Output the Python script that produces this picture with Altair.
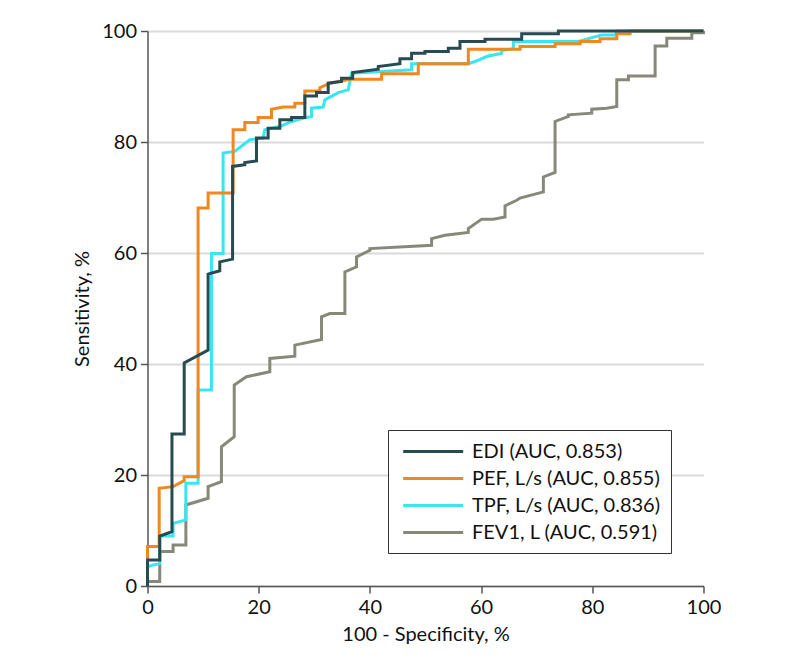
import altair as alt
import pandas as pd

# ---- data (x = 100 - Specificity %, y = Sensitivity %) ----
labels = ["EDI (AUC, 0.853)", "PEF, L/s (AUC, 0.855)", "TPF, L/s (AUC, 0.836)", "FEV1, L (AUC, 0.591)"]
colors = ["#274B50", "#F0871F", "#38E6F2", "#88887A"]

edi_x = [0, 0, 2.2, 2.2, 4.4, 4.4, 6.6, 6.6, 10.9, 10.9, 13.0, 13.0, 15.3, 15.3, 17.5, 17.5, 19.6, 19.6,
         21.7, 21.7, 23.8, 23.8, 25.9, 25.9, 28.3, 28.3, 30.4, 30.4, 32.5, 32.5, 34.9, 34.9, 36.9, 36.9,
         41.5, 41.5, 45.4, 45.4, 47.5, 47.5, 49.9, 49.9, 54.1, 54.1, 56.2, 56.2, 60.7, 60.7, 67.3, 67.3,
         73.9, 73.9, 100]
edi_y = [0, 4.7, 4.7, 9.0, 9.8, 27.4, 27.4, 40.2, 42.5, 56.2, 56.8, 58.4, 58.9, 75.6, 75.9, 76.3, 76.6, 80.7,
         80.7, 82.5, 82.5, 84.0, 84.0, 84.4, 84.4, 88.3, 88.3, 88.9, 88.9, 90.6, 90.9, 91.5, 91.5, 92.5,
         93.1, 93.6, 94.1, 95.0, 95.0, 96.0, 96.0, 96.3, 96.3, 96.9, 96.9, 98.1, 98.1, 98.5, 98.5, 99.5,
         99.5, 100, 100]

pef_x = [0, 0, 2.1, 2.1, 4.6, 6.6, 6.6, 9.1, 9.1, 10.9, 10.9, 15.4, 15.4, 17.5, 17.5, 19.9, 19.9, 22.3, 22.3,
         24.4, 26.5, 26.5, 28.3, 28.3, 31.0, 31.0, 32.8, 36.4, 42.1, 42.1, 48.7, 48.7, 57.7, 57.7, 67.0, 67.0,
         73.3, 73.3, 77.8, 77.8, 81.4, 81.4, 84.4, 84.4, 86.8, 86.8, 100]
pef_y = [5.0, 7.1, 7.1, 17.6, 17.9, 19.0, 19.7, 19.7, 68.1, 68.1, 70.8, 70.8, 82.2, 82.2, 83.5, 83.5, 84.4, 84.4, 85.9,
         86.3, 86.3, 87.0, 87.0, 89.2, 89.2, 89.8, 90.6, 91.3, 91.3, 92.3, 92.3, 94.1, 94.1, 96.7, 96.7, 97.2,
         97.2, 97.7, 97.7, 98.1, 98.1, 98.6, 98.6, 99.5, 99.5, 100, 100]

tpf_x = [0, 2.2, 2.2, 4.6, 4.6, 6.9, 6.9, 9.1, 9.1, 11.5, 11.5, 13.6, 13.6, 15.7, 18.4, 20.8, 21.1, 24.1, 25.9,
         28.1, 29.5, 29.5, 31.6, 31.9, 34.3, 36.1, 36.7, 47.5, 47.5, 57.7, 58.9, 61.0, 63.7, 63.7, 65.8, 65.8,
         77.5, 81.7, 84.1, 84.4, 100]
tpf_y = [3.5, 4.1, 9.0, 9.0, 11.3, 11.9, 18.5, 18.5, 35.3, 35.3, 59.9, 59.9, 78.0, 78.3, 80.4, 80.7, 82.2, 82.9, 83.7,
         84.3, 84.6, 86.1, 86.3, 87.6, 88.9, 89.4, 92.4, 93.0, 94.1, 94.1, 94.5, 95.4, 96.0, 96.5, 96.8, 98.1,
         98.1, 99.3, 99.3, 100, 100]

fev_x = [0, 0, 2.2, 2.2, 4.6, 4.6, 6.9, 6.9, 10.9, 10.9, 13.3, 13.3, 15.6, 15.6, 17.8, 22.0, 22.0, 26.5, 26.5,
         31.3, 31.3, 32.8, 35.5, 35.5, 37.6, 37.6, 40.0, 40.0, 51.1, 51.1, 53.5, 57.7, 57.7, 60.1, 62.2, 64.3,
         64.3, 66.4, 67.0, 71.2, 71.2, 73.3, 73.3, 75.7, 75.7, 79.9, 79.9, 82.6, 84.4, 84.4, 86.5, 86.5, 91.3,
         91.3, 93.4, 93.4, 97.9, 97.9, 100, 100]
fev_y = [0, 0.8, 0.8, 6.2, 6.2, 7.4, 7.4, 14.6, 15.8, 17.9, 18.8, 25.1, 26.9, 36.2, 37.7, 38.6, 41.0, 41.4, 43.4,
         44.4, 48.5, 49.1, 49.1, 56.6, 57.5, 59.3, 60.5, 60.8, 61.4, 62.6, 63.2, 63.7, 64.4, 66.1, 66.1, 66.5,
         68.5, 69.5, 69.9, 71.0, 73.7, 74.5, 83.7, 84.6, 84.9, 85.2, 85.9, 86.1, 86.4, 91.2, 91.2, 91.9, 91.9,
         97.3, 97.3, 98.7, 98.7, 99.7, 99.7, 100]

ticks = [0, 20, 40, 60, 80, 100]

# ---- build table ----
rows = []
series = [(labels[0], edi_x, edi_y, 3), (labels[1], pef_x, pef_y, 2),
          (labels[2], tpf_x, tpf_y, 1), (labels[3], fev_x, fev_y, 0)]
for name, xs, ys, z in series:
    for i, (x, y) in enumerate(zip(xs, ys)):
        rows.append({"series": name, "x": x, "y": y, "i": i, "z": z})
df = pd.DataFrame(rows)

FONT = "Lato"
FS = 20

base = alt.Chart(df)

lines = alt.layer(*[
    base.transform_filter(alt.datum.series == name).mark_line(strokeWidth=3, interpolate="linear").encode(
        x=alt.X("x:Q", scale=alt.Scale(domain=[0, 100], nice=False),
                axis=alt.Axis(values=ticks, title="100 - Specificity, %", grid=False, labelFlush=False,
                              tickSize=7, labelPadding=4, titlePadding=7)),
        y=alt.Y("y:Q", scale=alt.Scale(domain=[0, 100], nice=False),
                axis=alt.Axis(values=ticks, title="Sensitivity, %", grid=True, tickSize=7,
                              labelPadding=4, titlePadding=9)),
        color=alt.Color("series:N", scale=alt.Scale(domain=labels, range=colors),
                        legend=alt.Legend(orient="none", legendX=240.5, legendY=399, title=None,
                                          symbolType="M-0.63,0H5.37", symbolSize=400, symbolStrokeWidth=3,
                                          labelFontSize=FS, labelFont=FONT, labelColor="#111",
                                          labelLimit=0, padding=10, rowPadding=5, labelOffset=51,
                                          strokeColor="#333", fillColor="white", cornerRadius=0)),
        order=alt.Order("i:Q"),
    )
    for name, _, _, _ in sorted(series, key=lambda s: s[3])
])

chart = lines.properties(
    width=556, height=555,
    autosize=alt.AutoSizeParams(type="none"),
    padding={"left": 139.5, "top": 23, "right": 40, "bottom": 60},
).configure_view(stroke=None).configure_axis(
    labelFont=FONT, titleFont=FONT, labelFontSize=FS, titleFontSize=FS, titleFontWeight="normal",
    labelColor="#111", titleColor="#111", domainColor="#555", domainWidth=1.5, tickColor="#555",
    tickWidth=1.5, gridColor="#dadada", gridWidth=2,
)

chart.save("out.html", embed_options={"renderer": "svg", "actions": False})
